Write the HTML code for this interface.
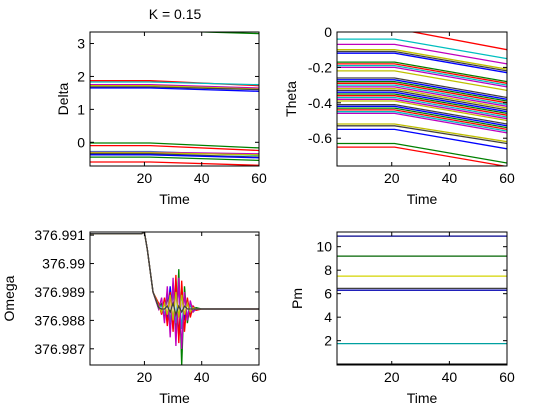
<!DOCTYPE html>
<html><head><meta charset="utf-8"><style>
html,body{margin:0;padding:0;background:#fff;}
svg{display:block;font-family:"Liberation Sans",Arial,sans-serif;}
</style></head><body>
<svg id="fig" width="560" height="420" viewBox="0 0 560 420" xmlns="http://www.w3.org/2000/svg">
<rect width="560" height="420" fill="#fff"/>
<text x="175" y="19" font-size="14" text-anchor="middle">K = 0.15</text>
</svg>
<script>
const COLORS=['#0000ff','#008000','#ff0000','#00bfbf','#bf00bf','#bfbf00','#404040'];
const timeRange=[1,60];
const timeTicks=[20,40,60];
// Delta
const deltaStart=[3.4,1.87,1.83,1.75,1.72,1.68,1.65,-0.02,-0.1,-0.28,-0.3,-0.32,-0.35,-0.38,-0.45,-0.6];
const deltaEnd=[3.3,1.72,1.75,1.65,1.62,1.6,1.55,-0.17,-0.25,-0.4,-0.35,-0.38,-0.45,-0.47,-0.55,-0.7];
const deltaTicks=[0,1,2,3];
// Theta
const thetaStart=[0.02,-0.04,-0.07,-0.1,-0.11,-0.12,-0.17,-0.18,-0.19,-0.2,-0.22,-0.26,-0.27,-0.28,-0.29,-0.3,-0.31,-0.32,-0.33,-0.34,-0.35,-0.36,-0.37,-0.38,-0.39,-0.41,-0.42,-0.43,-0.44,-0.45,-0.46,-0.52,-0.53,-0.55,-0.63,-0.65];
const thetaEnd=[-0.1,-0.15,-0.18,-0.21,-0.22,-0.23,-0.28,-0.29,-0.3,-0.31,-0.33,-0.37,-0.38,-0.39,-0.4,-0.41,-0.42,-0.43,-0.44,-0.45,-0.46,-0.47,-0.48,-0.49,-0.5,-0.52,-0.53,-0.54,-0.55,-0.56,-0.57,-0.62,-0.63,-0.66,-0.74,-0.76];
const thetaTicks=[-0.6,-0.4,-0.2,0];
// Omega (offset from 376.988, in units of 0.001)
const omegaTime=[1,19,20,21,23,25,26,27,28,29,30,31,32,33,34,35,36,37,38,40,60];
const omegaS1=[3.05,3.05,3.1,2.5,1.0,0.5,0.3,0.7,0.0,1.2,-0.3,1.4,-0.6,1.1,0.0,0.7,0.2,0.5,0.4,0.4,0.4];
const omegaS2=[3.05,3.05,3.1,2.5,1.0,0.4,0.6,0.1,0.9,-0.2,1.3,-0.5,1.8,-1.6,1.2,-0.1,0.6,0.3,0.45,0.4,0.4];
const omegaS3=[3.05,3.05,3.1,2.5,1.0,0.6,0.2,0.8,-0.2,1.0,-0.4,1.6,-0.8,1.4,-0.4,0.8,0.1,0.5,0.35,0.4,0.4];
const omegaS4=[3.05,3.05,3.1,2.5,1.0,0.5,0.5,0.2,1.0,-0.1,1.1,-0.1,1.2,-0.3,0.9,0.1,0.6,0.3,0.4,0.4,0.4];
const omegaS5=[3.05,3.05,3.1,2.5,1.0,0.4,0.8,-0.1,1.2,-0.6,1.5,-0.9,1.5,-1.0,1.0,0.0,0.7,0.3,0.4,0.4,0.4];
const omegaS6=[3.05,3.05,3.1,2.5,1.0,0.5,0.3,0.6,0.2,0.9,0.0,1.0,0.1,0.9,0.2,0.6,0.3,0.45,0.4,0.4,0.4];
const omegaS7=[3.05,3.05,3.1,2.5,1.0,0.45,0.4,0.4,0.5,0.3,0.6,0.2,0.5,0.3,0.5,0.4,0.4,0.4,0.4,0.4,0.4];
const omegaSeries=[omegaS1,omegaS2,omegaS3,omegaS4,omegaS5,omegaS6,omegaS7];
const omegaTicks=[-1,0,1,2,3];
const omegaTickLabels=['376.987','376.988','376.989','376.99','376.991'];
// Pm
const pmValues=[10.9,9.2,7.5,6.45,6.3,1.75,0];
const pmColors=['#00008b','#006400','#d4d400','#404040','#0000b0','#00a0a0','#000000'];
const pmTicks=[2,4,6,8,10];

const svg=document.getElementById('fig');
const NS='http://www.w3.org/2000/svg';
function mk(tag,attrs,parent){const e=document.createElementNS(NS,tag);for(const k in attrs)e.setAttribute(k,attrs[k]);(parent||svg).appendChild(e);return e;}
let clipN=0;
function makeAxes(name,L,R,T,B,ymin,ymax,ylabel,yTicks,yLabels,ylabX){
  const g=mk('g',{});
  
  
  const xs=t=>L+(t-timeRange[0])/(timeRange[1]-timeRange[0])*(R-L);
  const ys=v=>B-(v-ymin)/(ymax-ymin)*(B-T);
  const id='clip'+(clipN++);
  const cp=mk('clipPath',{id:id},g);mk('rect',{x:L,y:T,width:R-L,height:B-T},cp);
  const plot=mk('g',{'clip-path':'url(#'+id+')'},g);
  
  
  const fr=mk('rect',{x:L,y:T,width:R-L,height:B-T,fill:'none',stroke:'#000','stroke-width':1},g);
  
  
  timeTicks.forEach(t=>{const x=xs(t);
    mk('line',{x1:x,y1:B,x2:x,y2:B-4,stroke:'#000'},g);mk('line',{x1:x,y1:T,x2:x,y2:T+4,stroke:'#000'},g);
    const tx=mk('text',{x:x,y:B+17,'font-size':14,'text-anchor':'middle'},g);tx.textContent=t;
    
    });
  yTicks.forEach((v,i)=>{const y=ys(v);
    mk('line',{x1:L,y1:y,x2:L+4,y2:y,stroke:'#000'},g);mk('line',{x1:R,y1:y,x2:R-4,y2:y,stroke:'#000'},g);
    const tx=mk('text',{x:L-5,y:y+5,'font-size':14,'text-anchor':'end'},g);tx.textContent=yLabels[i];
    
    });
  const xl=mk('text',{x:(L+R)/2,y:B+38,'font-size':14,'text-anchor':'middle'},g);xl.textContent='Time';
  
  
  const yl=mk('text',{x:ylabX,y:(T+B)/2,'font-size':14,'text-anchor':'middle',transform:'rotate(-90 '+ylabX+' '+(T+B)/2+')'},g);yl.textContent=ylabel;
  
  
  return {plot,xs,ys};
}
function poly(parent,pts,color,name){
  const p=mk('polyline',{points:pts.map(q=>q[0].toFixed(1)+','+q[1].toFixed(1)).join(' '),fill:'none',stroke:color,'stroke-width':1.3},parent);
  
  
}
// Delta
let a=makeAxes('delta',90,259,32,166,-0.72,3.35,'Delta',deltaTicks,deltaTicks.map(String),68);
deltaStart.forEach((s,i)=>poly(a.plot,[[a.xs(1),a.ys(s)],[a.xs(22),a.ys(s)],[a.xs(60),a.ys(deltaEnd[i])]],COLORS[(i+1)%7],'delta-line'));
// Theta
a=makeAxes('theta',337,507,32,166,-0.757,0,'Theta',thetaTicks,['-0.6','-0.4','-0.2','0'],296);
thetaStart.forEach((s,i)=>poly(a.plot,[[a.xs(1),a.ys(s)],[a.xs(21),a.ys(s)],[a.xs(60),a.ys(thetaEnd[i])]],COLORS[(i+2)%7],'theta-line'));
// Omega
a=makeAxes('omega',90,259,232,365,-1.57,3.11,'Omega',omegaTicks,omegaTickLabels,14);
omegaSeries.forEach((ser,i)=>poly(a.plot,ser.map((v,j)=>[a.xs(omegaTime[j]),a.ys(v)]),COLORS[i%7],'omega-line'));
// Pm
a=makeAxes('pm',337,507,232,365,-0.07,11.25,'Pm',pmTicks,pmTicks.map(String),302);
pmValues.forEach((v,i)=>poly(a.plot,[[a.xs(1),a.ys(v)],[a.xs(60),a.ys(v)]],pmColors[i],'pm-line'));
</script>
</body></html>
